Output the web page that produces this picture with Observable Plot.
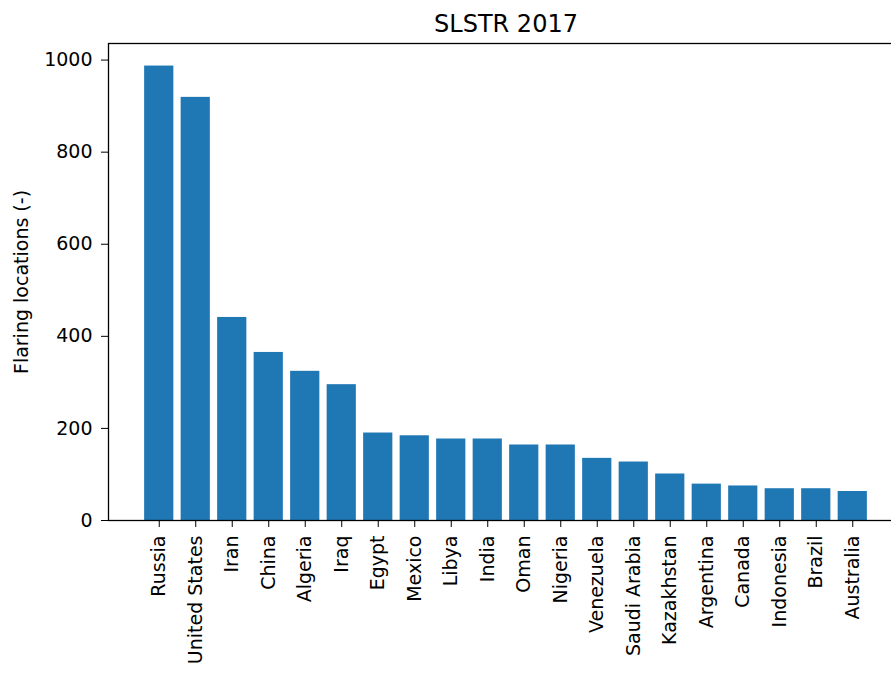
<!DOCTYPE html>
<html>
<head>
<meta charset="utf-8">
<script src="https://cdn.jsdelivr.net/npm/d3@7"></script>
<script src="https://cdn.jsdelivr.net/npm/@observablehq/plot@0.6"></script>
<style>
  html, body { margin: 0; padding: 0; background: #fff; overflow: hidden; width: 891px; height: 674px; }
  #chart { width: 891px; height: 674px; overflow: hidden; position: relative; }
  #chart svg { display: block; }
</style>
</head>
<body>
<div id="chart"></div>
<script>
const countries = ["Russia", "United States", "Iran", "China", "Algeria", "Iraq", "Egypt", "Mexico", "Libya", "India", "Oman", "Nigeria", "Venezuela", "Saudi Arabia", "Kazakhstan", "Argentina", "Canada", "Indonesia", "Brazil", "Australia"];
const flaringLocations = [987, 919, 441, 365, 324, 295, 190, 184, 177, 177, 164, 164, 135, 127, 101, 79, 75, 69, 69, 63];
const yTicks = [0, 200, 400, 600, 800, 1000];
const titleText = ["SLSTR 2017"];

const data = countries.map((c, i) => ({country: c, value: flaringLocations[i]}));

const chart = Plot.plot({
  width: 903,
  height: 674,
  marginTop: 43,
  marginBottom: 154,
  marginLeft: 108,
  marginRight: 0,
  style: {fontFamily: "DejaVu Sans", fontSize: "19px", color: "#000", background: "#fff", maxWidth: "none"},
  x: {type: "band", domain: countries, paddingInner: 0.2, paddingOuter: 0.99, align: 0.5, round: false},
  y: {domain: [0, 1036]},
  marks: [
    Plot.barY(data, {x: "country", y: "value", fill: "#1f77b4"}),
    Plot.frame({stroke: "#000", strokeWidth: 1.3}),
    Plot.axisY({ticks: yTicks, tickSize: 7, tickPadding: 9, tickFormat: d => String(d), label: "Flaring locations (-)", labelAnchor: "center", labelArrow: "none", labelOffset: 94, fontSize: 19, stroke: "#000"}),
    Plot.axisX({tickSize: 7, tickPadding: 8, tickRotate: -90, label: null, fontSize: 19}),
    Plot.text(titleText, {frameAnchor: "top", text: d => d, dy: -29, fontSize: 24, fill: "#000"})
  ]
});
chart.style.width = "903px";
chart.style.maxWidth = "none";
document.getElementById("chart").appendChild(chart);
</script>
</body>
</html>
